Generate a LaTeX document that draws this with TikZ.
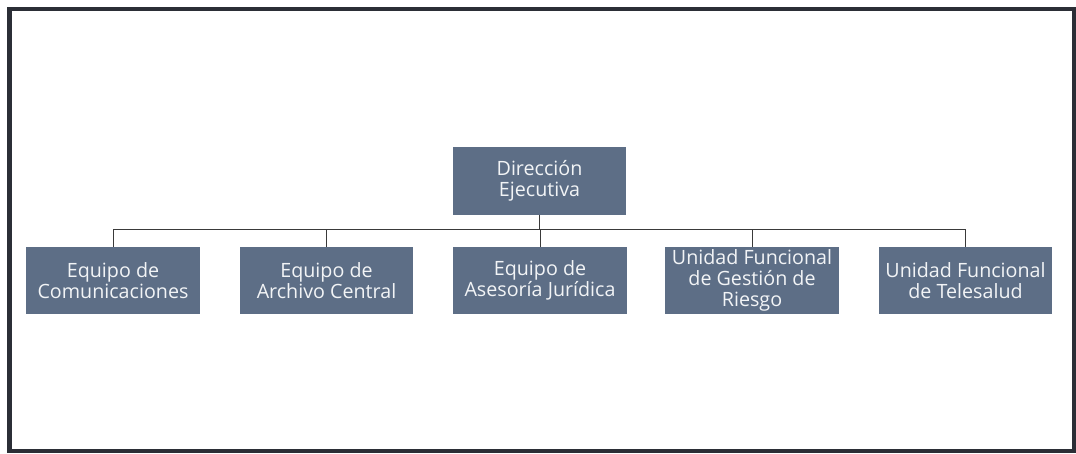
\documentclass[tikz,border=0pt]{standalone}
\usepackage{fontspec}
\setmainfont{Open Sans}
\IfFontExistsTF{Open Sans SemiBold}
  {\newfontfamily\cajafont{Open Sans SemiBold}}
  {\newfontfamily\cajafont{Open Sans}}
\usepackage{tikz}
\usetikzlibrary{positioning}
\definecolor{boxfill}{HTML}{5D6E86}
\definecolor{boxtext}{HTML}{F2F4F6}
\definecolor{framecol}{HTML}{2B2E36}
\definecolor{linecol}{HTML}{3A3A3A}

\begin{document}
\begin{tikzpicture}[x=0.025cm,y=-0.025cm,
  unidad/.style={fill=boxfill,text=boxtext,align=center,inner sep=0pt,
    minimum width=4.325cm,minimum height=1.675cm,
    font=\cajafont\fontsize{14}{14.8}\selectfont},
  enlace/.style={draw=linecol,line width=0.6pt}]
\useasboundingbox (0,0) rectangle (1076,453);
\draw[framecol,line width=0.1cm] (9.5,9.5) rectangle (1073.5,450.5);
%\node[unidad] at (539,181) {};
\node[unidad] (dir) at (539.5,181) {Dirección\\Ejecutiva};
\node[unidad] (com) at (113,280.5) {Equipo de\\Comunicaciones};
\node[unidad] (arc) at (326.5,280.5) {Equipo de\\Archivo Central};
\node[unidad] (jur) at (540,280.5) {Equipo de\\Asesoría Jurídica};
\node[unidad] (rie) at (752,280.5) {Unidad Funcional\\de Gestión de\\Riesgo};
\node[unidad] (tel) at (965.5,280.5) {Unidad Funcional\\de Telesalud};
\coordinate (bus) at (539.5,229);
\draw[enlace] (dir.south) -- (bus) -| (com.north);
\draw[enlace] (bus) -| (arc.north);
\draw[enlace] (bus) -| (jur.north);
\draw[enlace] (bus) -| (rie.north);
\draw[enlace] (bus) -| (tel.north);
\end{tikzpicture}
\end{document}
